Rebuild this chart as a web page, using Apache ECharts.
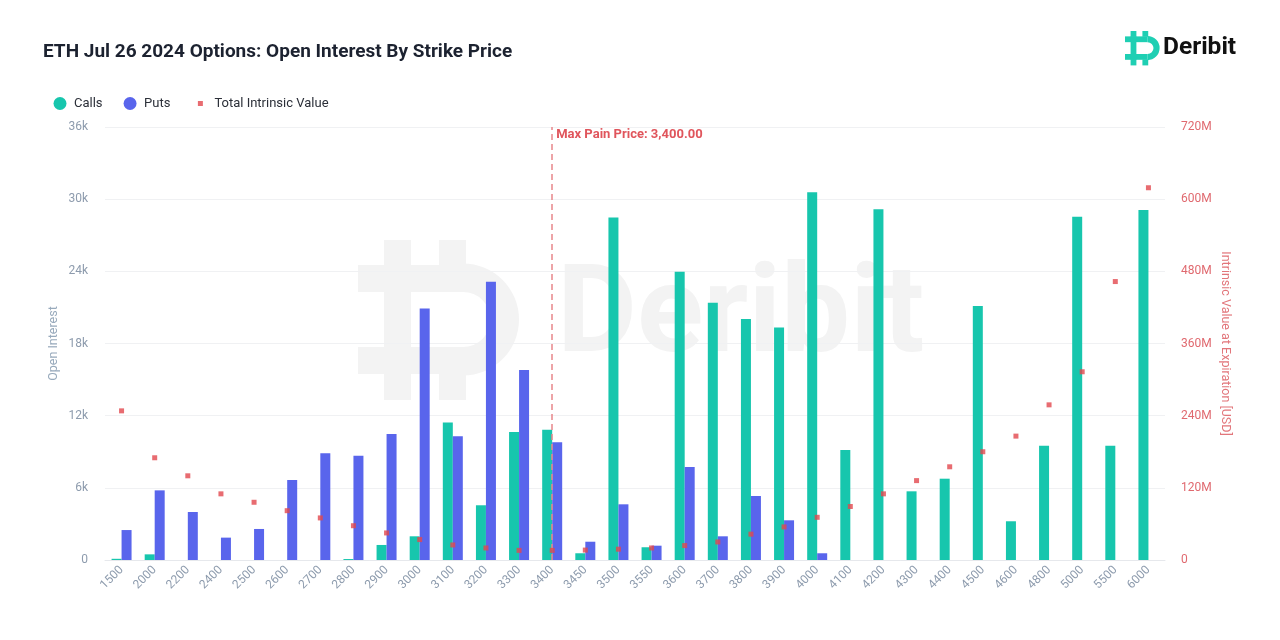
<!DOCTYPE html>
<html>
<head>
<meta charset="utf-8">
<script src="https://cdn.jsdelivr.net/npm/echarts@6/dist/echarts.min.js"></script>
<style>
html,body{margin:0;padding:0;background:#fff;}
#chart{width:1280px;height:640px;}
</style>
</head>
<body>
<div id="chart"></div>
<script>
const strikes = ['1500','2000','2200','2400','2500','2600','2700','2800','2900','3000','3100','3200','3300','3400','3450','3500','3550','3600','3700','3800','3900','4000','4100','4200','4300','4400','4500','4600','4800','5000','5500','6000'];
const calls = [100, 470, 0, 0, 0, 0, 0, 80, 1250, 1970, 11440, 4550, 10640, 10830, 560, 28480, 1060, 23960, 21380, 20030, 19340, 30580, 9140, 29170, 5710, 6760, 21110, 3220, 9500, 28530, 9500, 29090];
const puts = [2490, 5790, 3990, 1860, 2580, 6650, 8870, 8670, 10470, 20920, 10280, 23130, 15790, 9780, 1520, 4630, 1190, 7730, 1970, 5320, 3300, 560, 0, 0, 0, 0, 0, 0, 0, 0, 0, 0];
const intrinsic = [248e6, 170e6, 140e6, 110e6, 96e6, 82e6, 70e6, 57e6, 45e6, 34e6, 25e6, 20e6, 16e6, 16e6, 16.5e6, 18e6, 20e6, 24e6, 30e6, 43e6, 55e6, 71e6, 89e6, 110e6, 132e6, 155e6, 180e6, 206e6, 258e6, 313e6, 463e6, 619e6];
const maxPain = '3400';
const leftTicks = {min: 0, max: 36000, interval: 6000};
const rightTicks = {min: 0, max: 720e6, interval: 120e6};

const FONT = 'Roboto, "Noto Sans", sans-serif';

function logo(ox, oy, s, fill, z) {
  const rects = [[26,0,27,27],[81,0,27,27],[0,25,105,27],[0,107,105,27],[26,25,27,109],[26,132,27,28],[81,132,27,28]];
  const els = rects.map(r => ({
    type: 'rect', silent: true, z: z,
    shape: {x: ox + r[0]*s, y: oy + r[1]*s, width: r[2]*s, height: r[3]*s},
    style: {fill: fill}
  }));
  els.push({
    type: 'sector', silent: true, z: z,
    shape: {cx: ox + 105*s, cy: oy + 79.5*s, r0: 27.5*s, r: 56*s, startAngle: -Math.PI/2, endAngle: Math.PI/2, clockwise: true},
    style: {fill: fill}
  });
  return els;
}

const chart = echarts.init(document.getElementById('chart'), null, {renderer: 'canvas'});

const graphics = [].concat(
  logo(358, 240, 1, '#f3f3f3', -10),
  [{
    type: 'text', silent: true, z: -10,
    style: {x: 557, y: 320, text: 'Deribit', font: 'bold 123px ' + FONT, fill: '#f3f3f3', textVerticalAlign: 'middle'}
  }],
  logo(1125, 31, 0.215, '#1fcfb3', 10),
  [{
    type: 'text', silent: true, z: 10,
    style: {x: 1163, y: 48, text: 'Deribit', font: 'bold 24.5px ' + FONT, fill: '#111111', textVerticalAlign: 'middle'}
  }]
);

const option = {
  backgroundColor: '#ffffff',
  animation: false,
  title: {
    text: 'ETH Jul 26 2024 Options: Open Interest By Strike Price',
    left: 38, top: 38,
    textStyle: {fontFamily: FONT, fontSize: 19, fontWeight: 'bold', color: '#1c2230'}
  },
  legend: {
    left: 48.5, top: 92,
    itemWidth: 18, itemHeight: 13, itemGap: 21,
    textStyle: {fontFamily: FONT, fontSize: 13, color: '#2b2f38'},
    data: [
      {name: 'Calls', icon: 'circle'},
      {name: 'Puts', icon: 'circle'},
      {name: 'Total Intrinsic Value', icon: 'path://M0,0h0.01v0.01h-0.01z M6.5,4h5v5h-5z M18,13h0.01v0.01h-0.01z'}
    ]
  },
  graphic: graphics,
  grid: {left: 105, right: 115, top: 127, bottom: 80, containLabel: false},
  xAxis: {
    type: 'category',
    data: strikes,
    axisTick: {show: false},
    axisLine: {lineStyle: {color: '#e6e8ec'}},
    axisLabel: {rotate: 45, color: '#8d9bad', fontFamily: FONT, fontSize: 12, margin: 8, interval: 0}
  },
  yAxis: [
    {
      type: 'value', min: leftTicks.min, max: leftTicks.max, interval: leftTicks.interval,
      name: 'Open Interest', nameLocation: 'middle', nameGap: 45, nameRotate: 90, nameMoveOverlap: false,
      nameTextStyle: {color: '#98aabc', fontFamily: FONT, fontSize: 12.5},
      axisLine: {show: false}, axisTick: {show: false},
      axisLabel: {color: '#8d9bad', fontFamily: FONT, fontSize: 12, margin: 17,
        formatter: v => v === 0 ? '0' : (v / 1000) + 'k'},
      splitLine: {lineStyle: {color: '#f0f1f3'}}
    },
    {
      type: 'value', min: rightTicks.min, max: rightTicks.max, interval: rightTicks.interval,
      name: 'Intrinsic Value at Expiration [USD]', nameLocation: 'middle', nameGap: 54, nameRotate: -90, nameMoveOverlap: false,
      nameTextStyle: {color: '#e2767b', fontFamily: FONT, fontSize: 12.5},
      axisLine: {show: false}, axisTick: {show: false},
      axisLabel: {color: '#e0696f', fontFamily: FONT, fontSize: 12, margin: 16,
        formatter: v => v === 0 ? '0' : (v / 1e6) + 'M'},
      splitLine: {show: false}
    }
  ],
  series: [
    {
      name: 'Calls', type: 'bar', yAxisIndex: 0, data: calls,
      barWidth: 10, barGap: '0%',
      itemStyle: {color: '#17c6ad'}
    },
    {
      name: 'Puts', type: 'bar', yAxisIndex: 0, data: puts,
      barWidth: 10,
      itemStyle: {color: '#5965ec'}
    },
    {
      name: 'Total Intrinsic Value', type: 'scatter', yAxisIndex: 1, data: intrinsic,
      symbol: 'rect', symbolSize: 5, z: 5,
      itemStyle: {color: '#e2474e'},
      markLine: {
        silent: true, symbol: ['none', 'none'], z: 4,
        lineStyle: {color: '#e8868b', type: [6, 4], width: 1.5},
        label: {
          position: 'end', distance: 0, align: 'left', verticalAlign: 'top',
          padding: [1, 0, 0, 4],
          formatter: 'Max Pain Price: 3,400.00',
          color: '#e0555c', fontFamily: FONT, fontSize: 13, fontWeight: 'bold'
        },
        data: [{xAxis: maxPain}]
      }
    }
  ]
};
chart.setOption(option);
</script>
</body>
</html>
